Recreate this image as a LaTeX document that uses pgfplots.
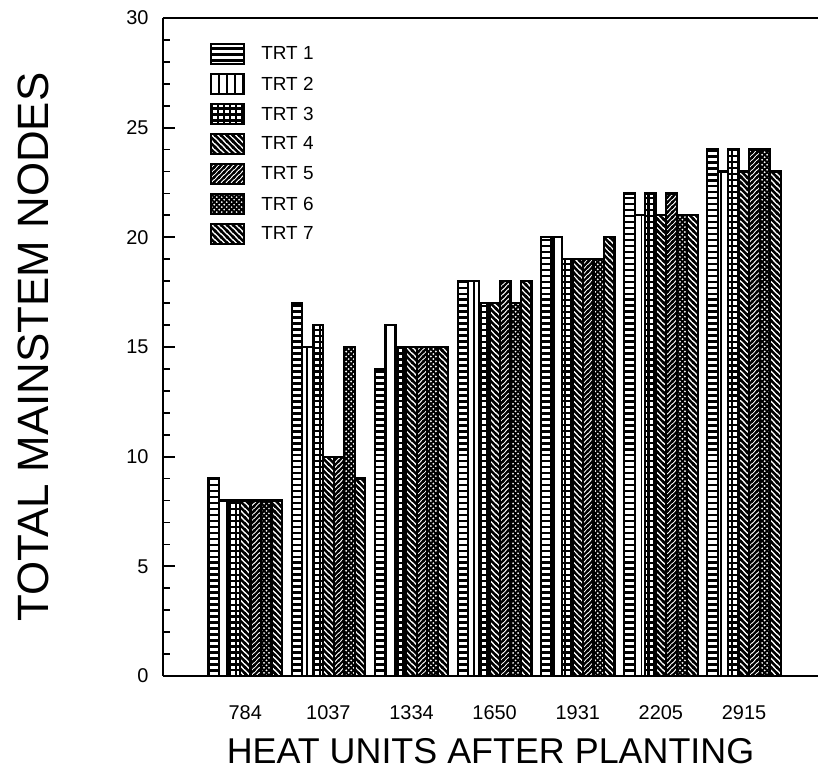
\documentclass[border=0pt]{standalone}
\usepackage{fontspec}
\setmainfont{Liberation Sans}
\usepackage{pgfplots}
\pgfplotsset{compat=1.18}
\usetikzlibrary{patterns}

\pgfdeclarepatternformonly{Hl}{\pgfqpoint{-1pt}{-1pt}}{\pgfqpoint{7pt}{7pt}}{\pgfqpoint{6pt}{6pt}}{%
  \pgfsetlinewidth{2.6pt}%
  \pgfpathmoveto{\pgfqpoint{-1pt}{3pt}}\pgfpathlineto{\pgfqpoint{7pt}{3pt}}%
  \pgfusepath{stroke}}
\pgfdeclarepatternformonly{Vl}{\pgfqpoint{-1pt}{-1pt}}{\pgfqpoint{9pt}{9pt}}{\pgfqpoint{8pt}{8pt}}{%
  \pgfsetlinewidth{1.8pt}%
  \pgfpathmoveto{\pgfqpoint{4pt}{-1pt}}\pgfpathlineto{\pgfqpoint{4pt}{9pt}}%
  \pgfusepath{stroke}}
\pgfdeclarepatternformonly{Gr}{\pgfqpoint{-1pt}{-1pt}}{\pgfqpoint{7pt}{7pt}}{\pgfqpoint{6pt}{6pt}}{%
  \pgfsetlinewidth{2.2pt}%
  \pgfpathmoveto{\pgfqpoint{-1pt}{3pt}}\pgfpathlineto{\pgfqpoint{7pt}{3pt}}%
  \pgfpathmoveto{\pgfqpoint{3pt}{-1pt}}\pgfpathlineto{\pgfqpoint{3pt}{7pt}}%
  \pgfusepath{stroke}}
\pgfdeclarepatternformonly{NW}{\pgfqpoint{-1pt}{-1pt}}{\pgfqpoint{7pt}{7pt}}{\pgfqpoint{6pt}{6pt}}{%
  \pgfsetlinewidth{2.5pt}%
  \pgfpathmoveto{\pgfqpoint{-0.5pt}{6.5pt}}\pgfpathlineto{\pgfqpoint{6.5pt}{-0.5pt}}%
  \pgfpathmoveto{\pgfqpoint{-1pt}{1pt}}\pgfpathlineto{\pgfqpoint{1pt}{-1pt}}%
  \pgfpathmoveto{\pgfqpoint{5pt}{7pt}}\pgfpathlineto{\pgfqpoint{7pt}{5pt}}%
  \pgfusepath{stroke}}
\pgfdeclarepatternformonly{NE}{\pgfqpoint{-1pt}{-1pt}}{\pgfqpoint{6pt}{6pt}}{\pgfqpoint{5pt}{5pt}}{%
  \pgfsetlinewidth{2.2pt}%
  \pgfpathmoveto{\pgfqpoint{-0.5pt}{-0.5pt}}\pgfpathlineto{\pgfqpoint{5.5pt}{5.5pt}}%
  \pgfpathmoveto{\pgfqpoint{-1pt}{4pt}}\pgfpathlineto{\pgfqpoint{1pt}{6pt}}%
  \pgfpathmoveto{\pgfqpoint{4pt}{-1pt}}\pgfpathlineto{\pgfqpoint{6pt}{1pt}}%
  \pgfusepath{stroke}}
\pgfdeclarepatternformonly{XX}{\pgfqpoint{-1pt}{-1pt}}{\pgfqpoint{6pt}{6pt}}{\pgfqpoint{5pt}{5pt}}{%
  \pgfsetlinewidth{1.8pt}%
  \pgfpathmoveto{\pgfqpoint{-0.5pt}{-0.5pt}}\pgfpathlineto{\pgfqpoint{5.5pt}{5.5pt}}%
  \pgfpathmoveto{\pgfqpoint{-0.5pt}{5.5pt}}\pgfpathlineto{\pgfqpoint{5.5pt}{-0.5pt}}%
  \pgfusepath{stroke}}

\pgfplotstableread{
x t1 t2 t3 t4 t5 t6 t7
1  9  8  8  8  8  8  8
2 17 15 16 10 10 15  9
3 14 16 15 15 15 15 15
4 18 18 17 17 18 17 18
5 20 20 19 19 19 19 20
6 22 21 22 21 22 21 21
7 24 23 24 23 24 24 23
}\data

\pgfplotsset{
  mybar/.style={draw=black, line width=2.2bp, pattern=#1, pattern color=black,
    legend image code/.code={\draw[##1, line width=2bp] (0bp,-10bp) rectangle (33bp,10bp);}},
}

\begin{document}
\begin{tikzpicture}
\begin{axis}[
  scale only axis, width=655bp, height=658bp,
  xmin=0.01, xmax=7.89, ymin=0, ymax=30,
  ybar=0pt, bar width=0.1265,
  axis x line=box, axis y line=left,
  axis line style={-, line width=2.2bp, black},
  every outer y axis line/.append style={-},
  xtick={1,...,7}, xticklabels={784,1037,1334,1650,1931,2205,2915},
  x tick style={draw=none},
  ytick={0,5,...,30}, minor y tick num=4,
  tick align=inside,
  major tick length=12bp, minor tick length=7bp,
  y tick style={line width=1.8bp, black},
  /pgf/number format/assume math mode=true,
  tick label style={font=\fontsize{20}{20}\selectfont},
  yticklabel style={xshift=-11bp},
  xticklabel style={yshift=-26bp},
  xlabel={HEAT UNITS AFTER PLANTING},
  ylabel={TOTAL MAINSTEM NODES},
  xlabel style={at={(axis description cs:0.5,-0.114)}, anchor=center, font=\fontsize{36}{36}\selectfont},
  ylabel style={at={(axis description cs:-0.1985,0.5)}, anchor=center, font=\fontsize{44}{44}\selectfont},
  legend style={draw=none, fill=none, at={(axis description cs:0.072,0.962)}, anchor=north west,
    font=\fontsize{19}{20}\selectfont, row sep=8bp, inner sep=0pt,
    /tikz/every odd column/.append style={column sep=14bp}},
  legend cell align=left,
  clip=false,
]
\addplot[mybar=Hl] table[x=x,y=t1]{\data};
\addplot[mybar=Vl] table[x=x,y=t2]{\data};
\addplot[mybar=Gr] table[x=x,y=t3]{\data};
\addplot[mybar=NW] table[x=x,y=t4]{\data};
\addplot[mybar=NE] table[x=x,y=t5]{\data};
\addplot[mybar=XX] table[x=x,y=t6]{\data};
\addplot[mybar=NW] table[x=x,y=t7]{\data};
\legend{TRT 1,TRT 2,TRT 3,TRT 4,TRT 5,TRT 6,TRT 7}
\coordinate (O) at (rel axis cs:0,0);
\coordinate (T) at (rel axis cs:1,1);
\end{axis}
\pgfresetboundingbox
\path[use as bounding box] ([xshift=-163bp,yshift=-99bp]O) rectangle ([yshift=18bp]T);
\end{tikzpicture}
\end{document}
